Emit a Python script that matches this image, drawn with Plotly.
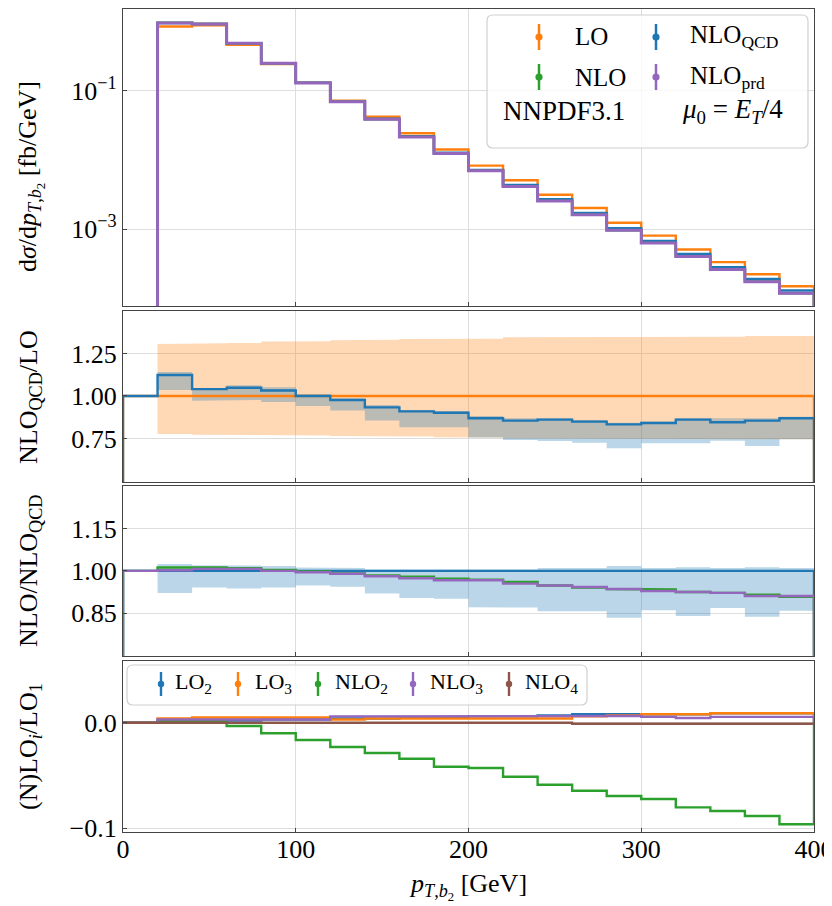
import plotly.graph_objects as go
from plotly.subplots import make_subplots

# ---------------- data ----------------
edges = [0, 20, 40, 60, 80, 100, 120, 140, 160, 180, 200, 220, 240, 260, 280, 300, 320, 340, 360, 380, 400]

# top panel: d sigma / d pT,b2 [fb/GeV]
lo_xs = [0, 0.845, 0.880, 0.460, 0.2415, 0.130, 0.0718, 0.0421, 0.0243, 0.0142, 0.00830, 0.00510,
         0.00315, 0.00203, 0.00124, 0.00081, 0.000510, 0.000336, 0.000225, 0.000151]
nlo_qcd_xs = [0, 0.949, 0.915, 0.482, 0.249, 0.130, 0.0701, 0.0393, 0.0221, 0.01279, 0.00721, 0.00436,
              0.00271, 0.00172, 0.001033, 0.000681, 0.000439, 0.000284, 0.000192, 0.000131]
nlo_xs = [0, 0.960, 0.926, 0.486, 0.250, 0.1297, 0.0695, 0.0387, 0.0216, 0.01243, 0.00699, 0.00419,
          0.00257, 0.00162, 0.000967, 0.000636, 0.000406, 0.000262, 0.000176, 0.000119]
nlo_prd_xs = [0, 0.951, 0.921, 0.485, 0.249, 0.1294, 0.0694, 0.0386, 0.0215, 0.01237, 0.00697, 0.00416,
              0.00257, 0.00162, 0.000967, 0.000633, 0.000406, 0.000262, 0.000175, 0.000119]

# panel 2: NLO_QCD / LO
ratio_lo = [1.0] * 20
ratio_nloqcd_lo = [1.0, 1.123, 1.040, 1.048, 1.032, 1.000, 0.976, 0.933, 0.909, 0.901, 0.869, 0.855,
                   0.861, 0.849, 0.833, 0.841, 0.861, 0.845, 0.855, 0.869]
# bands (bins 20..400)
lo_band_hi = [1.306, 1.310, 1.312, 1.320, 1.322, 1.328, 1.331, 1.335, 1.339, 1.337, 1.345, 1.345,
              1.345, 1.345, 1.345, 1.345, 1.349, 1.353, 1.353]
lo_band_lo = [0.776, 0.772, 0.772, 0.768, 0.768, 0.765, 0.765, 0.761, 0.757, 0.755, 0.751, 0.750,
              0.749, 0.748, 0.747, 0.747, 0.746, 0.745, 0.745]
nloqcd_band_hi_p2 = [1.141, 1.043, 1.063, 1.051, 1.012, 0.986, 0.947, 0.918, 0.912, 0.882, 0.869,
                     0.869, 0.859, 0.843, 0.849, 0.869, 0.869, 0.869, 0.878]
nloqcd_band_lo_p2 = [1.035, 0.972, 0.976, 0.965, 0.941, 0.914, 0.855, 0.816, 0.816, 0.755, 0.741,
                     0.735, 0.725, 0.692, 0.722, 0.722, 0.737, 0.706, 0.745]

# panel 3: NLO / NLO_QCD
ratio_nloqcd = [1.0] * 20
ratio_nlo_nloqcd = [1.0, 1.012, 1.012, 1.009, 1.003, 0.998, 0.991, 0.984, 0.979, 0.972, 0.969, 0.961,
                    0.948, 0.941, 0.936, 0.934, 0.925, 0.922, 0.916, 0.908]
ratio_nloprd_nloqcd = [1.0, 1.002, 1.007, 1.007, 1.000, 0.995, 0.990, 0.981, 0.974, 0.967, 0.967, 0.955,
                       0.948, 0.943, 0.936, 0.929, 0.925, 0.922, 0.911, 0.911]
nloqcd_band_hi_p3 = [1.024, 1.020, 1.019, 1.017, 1.012, 1.010, 1.005, 1.005, 1.005, 1.005, 1.005,
                     1.010, 1.010, 1.017, 1.010, 1.013, 1.010, 1.013, 1.010]
nloqcd_band_lo_p3 = [0.922, 0.941, 0.938, 0.941, 0.948, 0.944, 0.920, 0.904, 0.901, 0.871, 0.870,
                     0.857, 0.857, 0.834, 0.861, 0.840, 0.869, 0.838, 0.859]

# panel 4: (N)LO_i / LO_1
lo2 = [0, 0.002, 0.002, 0.002, 0.003, 0.003, 0.004, 0.004, 0.005, 0.005, 0.006, 0.006, 0.007, 0.008,
       0.008, 0.008, 0.008, 0.009, 0.009, 0.009]
lo3 = [0, 0.004, 0.005, 0.005, 0.005, 0.005, 0.003, 0.004, 0.004, 0.004, 0.004, 0.004, 0.004, 0.006,
       0.007, 0.008, 0.008, 0.009, 0.009, 0.009]
nlo2 = [0, 0.0016, 0.0016, -0.0031, -0.0100, -0.0164, -0.0231, -0.0288, -0.0342, -0.0418, -0.0430,
        -0.0513, -0.0589, -0.0646, -0.0696, -0.0725, -0.0804, -0.0839, -0.0886, -0.0965]
nlo3 = [0, 0.003, 0.003, 0.003, 0.003, 0.003, 0.006, 0.006, 0.006, 0.006, 0.0065, 0.0065, 0.0065,
        0.0065, 0.0065, 0.0055, 0.0045, 0.0055, 0.0055, 0.0055]
nlo4 = [0, 0, 0, 0, 0, 0, 0, 0, 0, 0, 0, 0, 0, -0.001, -0.001, -0.001, -0.001, -0.001, -0.001, -0.001]

x_ticks = [0, 100, 200, 300, 400]

# ---------------- style ----------------
C_BLUE, C_ORANGE, C_GREEN, C_PURPLE, C_BROWN = "#1f77b4", "#ff7f0e", "#2ca02c", "#9467bd", "#8c564b"
FONT = "Liberation Serif"
# the page body adds an 8 px offset; figure is sized so the window shows the reference layout
OFF = 8
W, H = 832 - OFF, 906 - OFF
ML, MT = 123 - OFF, 9 - OFF
MR = W - (814 - OFF)
MB = H - (832 - OFF)
PW, PH = W - ML - MR, H - MT - MB


def px2x(px):  # window pixel -> paper
    return (px - 123) / PW


def px2y(py):
    return (832 - py) / PH


def step_xy(ed, vals, base):
    xs, ys = [ed[0]], [base]
    for i, v in enumerate(vals):
        xs += [ed[i], ed[i + 1]]
        ys += [v, v]
    xs.append(ed[-1])
    ys.append(base)
    return xs, ys


def band_xy(ed, lo, hi):
    xs, ys = [], []
    for i, v in enumerate(hi):
        xs += [ed[i], ed[i + 1]]
        ys += [v, v]
    for i in range(len(lo) - 1, -1, -1):
        xs += [ed[i + 1], ed[i]]
        ys += [lo[i], lo[i]]
    xs.append(xs[0])
    ys.append(ys[0])
    return xs, ys


fig = make_subplots(rows=4, cols=1, shared_xaxes=True)


def add_step(vals, color, row, width=2.4, base=0.0, log=False):
    v = [max(x, 1e-10) for x in vals] if log else vals
    xs, ys = step_xy(edges, v, 1e-10 if log else base)
    fig.add_trace(go.Scatter(x=xs, y=ys, mode="lines", line=dict(color=color, width=width),
                             hoverinfo="skip", showlegend=False), row=row, col=1)


def add_band(lo, hi, rgba, row):
    xs, ys = band_xy(edges[1:], lo, hi)
    fig.add_trace(go.Scatter(x=xs, y=ys, mode="lines", fill="toself", fillcolor=rgba,
                             line=dict(width=0), hoverinfo="skip", showlegend=False), row=row, col=1)


# panel 1
add_step(lo_xs, C_ORANGE, 1, log=True)
add_step(nlo_qcd_xs, C_BLUE, 1, log=True)
add_step(nlo_xs, C_GREEN, 1, log=True)
add_step(nlo_prd_xs, C_PURPLE, 1, width=3.0, log=True)

# panel 2
add_band(lo_band_lo, lo_band_hi, "rgba(255,127,14,0.30)", 2)
add_band(nloqcd_band_lo_p2, nloqcd_band_hi_p2, "rgba(31,119,180,0.30)", 2)
add_step(ratio_lo, C_ORANGE, 2)
add_step(ratio_nloqcd_lo, C_BLUE, 2)

# panel 3
add_band(nloqcd_band_lo_p3, nloqcd_band_hi_p3, "rgba(31,119,180,0.30)", 3)
add_step(ratio_nloqcd, C_BLUE, 3)
add_step(ratio_nlo_nloqcd, C_GREEN, 3)
add_step(ratio_nloprd_nloqcd, C_PURPLE, 3)

# panel 4
add_step(lo2, C_BLUE, 4)
add_step(lo3, C_ORANGE, 4)
add_step(nlo2, C_GREEN, 4)
add_step(nlo3, C_PURPLE, 4)
add_step(nlo4, C_BROWN, 4)

axis_common = dict(showline=True, linecolor="#444444", linewidth=1.3, mirror=True,
                   showgrid=True, gridcolor="#dddddd", gridwidth=1, zeroline=False,
                   ticks="inside", ticklen=4, tickcolor="#444444", ticklabeloverflow="allow",
                   tickfont=dict(family=FONT, size=26, color="black"))

domains = [(px2y(306), px2y(9)), (px2y(482.3), px2y(311.3)), (px2y(655.7), px2y(486)), (0.0, px2y(660.7))]
for i in range(4):
    xa = "xaxis" if i == 0 else f"xaxis{i + 1}"
    ya = "yaxis" if i == 0 else f"yaxis{i + 1}"
    fig.layout[xa].update(range=[0, 400], tickvals=x_ticks, ticktext=[str(t) for t in x_ticks],
                          showticklabels=(i == 3), **axis_common)
    fig.layout[ya].update(domain=list(domains[i]), **axis_common)

fig.layout.xaxis4.update(ticklabelstandoff=-6)
fig.layout.yaxis.update(type="log", range=[-4.107, 0.179], tickvals=[1e-3, 1e-1],
                        ticktext=["10<sup>−3</sup>", "10<sup>−1</sup>"])
fig.layout.yaxis2.update(range=[0.492, 1.498], tickvals=[0.75, 1.0, 1.25], ticktext=["0.75", "1.00", "1.25"])
fig.layout.yaxis3.update(range=[0.70, 1.30], tickvals=[0.85, 1.0, 1.15], ticktext=["0.85", "1.00", "1.15"])
fig.layout.yaxis4.update(range=[-0.1038, 0.0589], tickvals=[-0.1, 0.0], ticktext=["−0.1", "0.0"])

annotations = []
shapes = []


def text(px, py, s, size=26, xanchor="center", angle=0):
    annotations.append(dict(x=px2x(px), y=px2y(py), xref="paper", yref="paper", text=s, showarrow=False,
                            xanchor=xanchor, yanchor="middle", textangle=angle,
                            font=dict(family=FONT, size=size, color="black")))


# axis titles
text(30, 177, "d<i>σ</i>/d<i>p</i><sub><i>T</i>,<i>b</i><sub>2</sub></sub> [fb/GeV]", angle=-90)
text(30, 397, "NLO<sub>QCD</sub>/LO", angle=-90)
text(30, 571, "NLO/NLO<sub>QCD</sub>", angle=-90)
text(30, 747, "(N)LO<sub><i>i</i></sub>/LO<sub>1</sub>", angle=-90)
text(468, 886, "<i>p</i><sub><i>T</i>,<i>b</i><sub>2</sub></sub> [GeV]")


def rounded_box(x0, y0, x1, y1, r=6):
    X = lambda p: px2x(p)
    Y = lambda p: px2y(p)
    path = (f"M {X(x0 + r)} {Y(y0)} L {X(x1 - r)} {Y(y0)} Q {X(x1)} {Y(y0)} {X(x1)} {Y(y0 + r)} "
            f"L {X(x1)} {Y(y1 - r)} Q {X(x1)} {Y(y1)} {X(x1 - r)} {Y(y1)} "
            f"L {X(x0 + r)} {Y(y1)} Q {X(x0)} {Y(y1)} {X(x0)} {Y(y1 - r)} "
            f"L {X(x0)} {Y(y0 + r)} Q {X(x0)} {Y(y0)} {X(x0 + r)} {Y(y0)} Z")
    shapes.append(dict(type="path", xref="paper", yref="paper", path=path,
                       line=dict(color="#d0d0d0", width=1.2), fillcolor="rgba(255,255,255,0.8)"))


def marker(px, py, color, half=13, rad=3.6, lw=2.5):
    shapes.append(dict(type="line", xref="paper", yref="paper", x0=px2x(px), x1=px2x(px),
                       y0=px2y(py - half), y1=px2y(py + half), line=dict(color=color, width=lw)))
    shapes.append(dict(type="circle", xref="paper", yref="paper", x0=px2x(px - rad), x1=px2x(px + rad),
                       y0=px2y(py + rad), y1=px2y(py - rad), line=dict(color=color, width=0),
                       fillcolor=color))


# top legend
rounded_box(487, 15, 808, 148)
marker(539, 37, C_ORANGE)
text(573, 37, "LO", size=25, xanchor="left")
marker(656, 37, C_BLUE)
text(688, 37, "NLO<sub>QCD</sub>", size=25, xanchor="left")
marker(539, 77, C_GREEN)
text(573, 77, "NLO", size=25, xanchor="left")
marker(656, 77, C_PURPLE)
text(688, 77, "NLO<sub>prd</sub>", size=25, xanchor="left")
text(564, 111, "NNPDF3.1", size=27)
text(732, 111, "<i>μ</i><sub>0</sub> = <i>E<sub>T</sub></i>/4", size=27)

# bottom legend
rounded_box(127, 665, 587, 705)
for mx, tx, col, lab in [(161, 173, C_BLUE, "LO<sub>2</sub>"), (238, 253, C_ORANGE, "LO<sub>3</sub>"),
                         (318, 333, C_GREEN, "NLO<sub>2</sub>"), (413, 428, C_PURPLE, "NLO<sub>3</sub>"),
                         (509, 523, C_BROWN, "NLO<sub>4</sub>")]:
    marker(mx, 684, col, half=12, rad=3.2, lw=2.4)
    text(tx, 683, lab, size=22, xanchor="left")

fig.update_layout(width=W, height=H, margin=dict(l=ML, r=MR, t=MT, b=MB, autoexpand=False),
                  paper_bgcolor="white", plot_bgcolor="white", showlegend=False,
                  annotations=annotations, shapes=shapes,
                  font=dict(family=FONT, size=26, color="black"))

fig.write_html("out.html")
